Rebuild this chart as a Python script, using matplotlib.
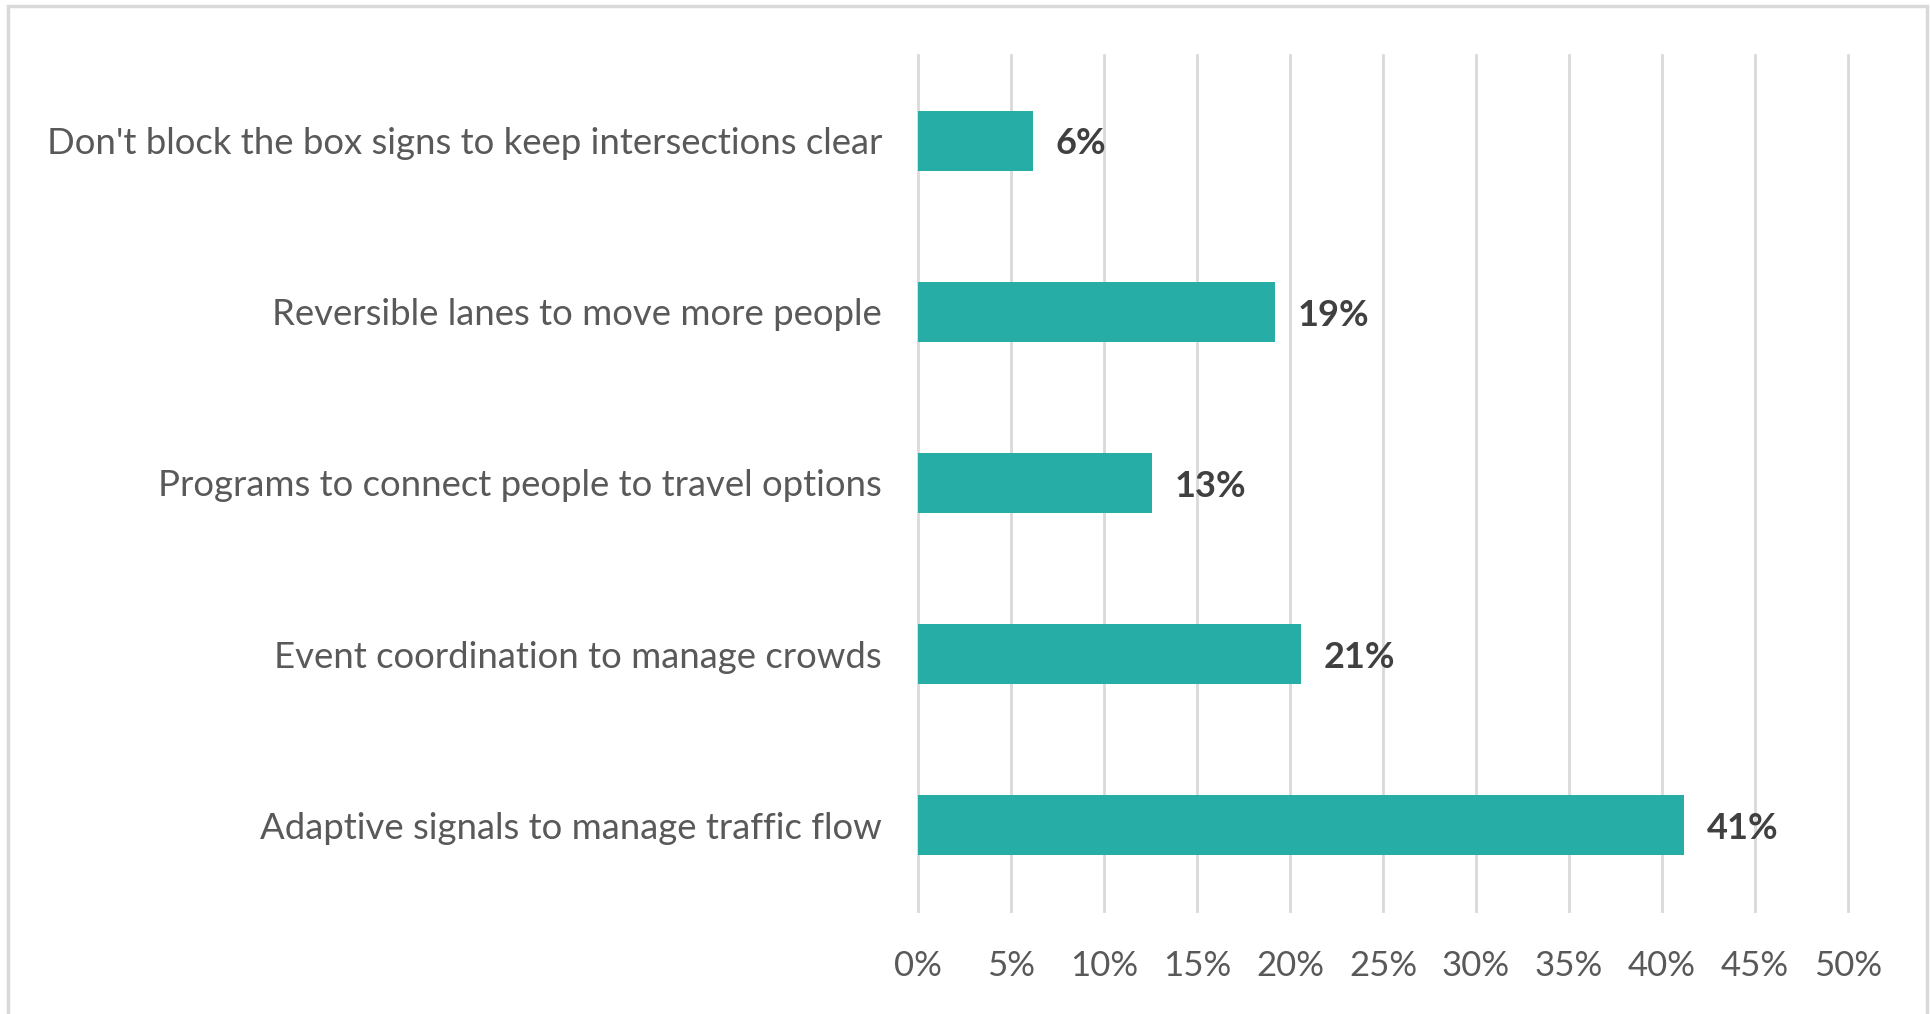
import matplotlib.pyplot as plt
from matplotlib.patches import Rectangle

# data (top to bottom as shown)
categories = ["Don't block the box signs to keep intersections clear",
              "Reversible lanes to move more people",
              "Programs to connect people to travel options",
              "Event coordination to manage crowds",
              "Adaptive signals to manage traffic flow"]
values = [6.2, 19.2, 12.6, 20.6, 41.2]
value_labels = ["6%", "19%", "13%", "21%", "41%"]
xticks = [0, 5, 10, 15, 20, 25, 30, 35, 40, 45, 50]

plt.rcParams['font.family'] = ['Lato', 'DejaVu Sans']

fig = plt.figure(figsize=(19.31, 10.14), dpi=100)
ax = fig.add_axes([0.4754, 0.1016, 0.4816, 0.8442])

ypos = list(range(len(categories)))[::-1]
ax.barh(ypos, values, height=0.35, color='#26ada5', zorder=3)

for y, v, lab in zip(ypos, values, value_labels):
    ax.text(v + 1.2, y - 0.02, lab, va='center', ha='left', fontsize=26,
            fontweight='bold', color='#404040')

ax.set_xlim(0, 50)
ax.set_ylim(-0.5, 4.5)
ax.set_xticks(xticks)
ax.set_xticklabels([f"{t}%" for t in xticks])
ax.set_yticks(ypos)
ax.set_yticklabels(categories)

ax.grid(axis='x', color='#d9d9d9', linewidth=2, zorder=0)
for gl in ax.get_xgridlines():
    gl.set_clip_on(False)
for s in ax.spines.values():
    s.set_visible(False)
ax.tick_params(axis='x', length=0, labelsize=25, labelcolor='#595959', pad=28)
ax.tick_params(axis='y', length=0, labelsize=26.3, labelcolor='#595959', pad=26)

# outer frame
fig.patches.append(Rectangle((0.004, -0.01), 0.994, 1.004, transform=fig.transFigure,
                             fill=False, edgecolor='#d9d9d9', linewidth=2.5))

fig.savefig('out.png', dpi=100)
